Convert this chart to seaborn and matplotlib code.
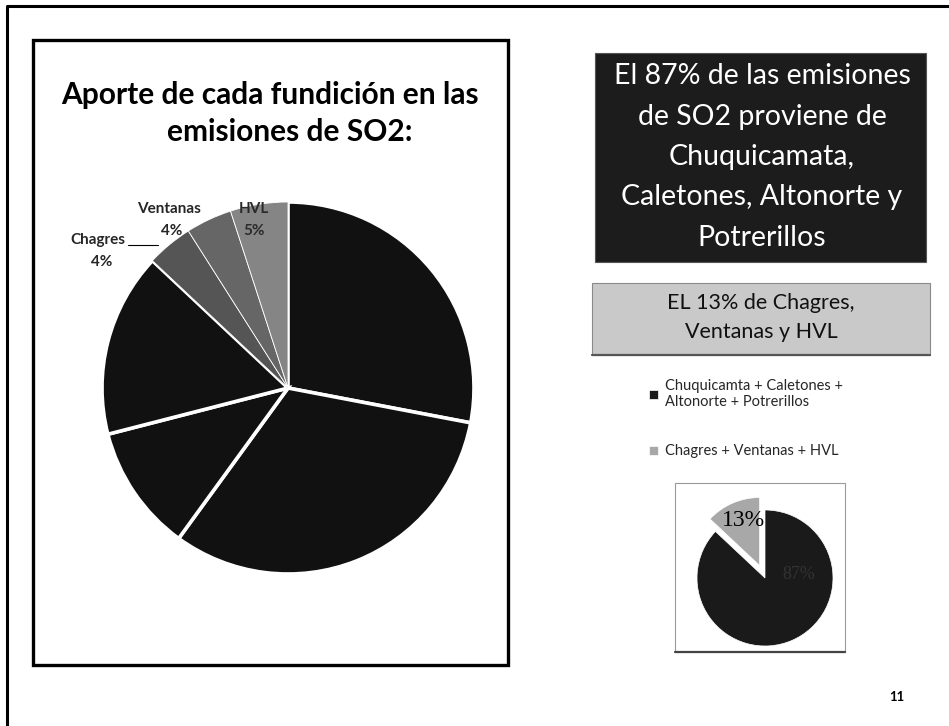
import matplotlib.pyplot as plt
import seaborn as sns
from matplotlib.patches import Rectangle

fundiciones = ["Chuquicamata", "Caletones", "Altonorte", "Potrerillos", "Chagres", "Ventanas", "HVL"]
aporte = [28, 32, 11, 16, 4, 4, 5]
grupos = ["Chuquicamta + Caletones +\nAltonorte + Potrerillos", "Chagres + Ventanas + HVL"]
grupo_pct = [87, 13]

sns.set_theme(style="white")
plt.rcParams['font.family'] = ['Lato', 'DejaVu Sans']

W, H = 949, 726
fig = plt.figure(figsize=(W / 100, H / 100), dpi=100)

# capa en pixeles (por encima de las tortas, sin fondo)
bg = fig.add_axes([0, 0, 1, 1])
bg.set_xlim(0, W)
bg.set_ylim(H, 0)
bg.axis('off')
bg.set_zorder(5)

# marco de la diapositiva y del panel izquierdo
bg.plot([7, 7, W + 5], [H + 5, 6, 6], color='black', lw=2.2)
bg.add_patch(Rectangle((33, 40), 475, 625, fill=False, ec='black', lw=2.4))

bg.text(270, 95, "Aporte de cada fundición en las", ha='center', va='center',
        fontsize=21.5, fontweight='bold', color='black')
bg.text(290, 132, "emisiones de SO2:", ha='center', va='center',
        fontsize=21.5, fontweight='bold', color='black')

# recuadro oscuro
bg.add_patch(Rectangle((595, 53), 331, 209, fc='#1c1c1c', ec='#555555', lw=0.8))
lineas = ["El 87% de las emisiones", "de SO2 proviene de", "Chuquicamata,",
          "Caletones, Altonorte y", "Potrerillos"]
for i, t in enumerate(lineas):
    bg.text(762, 76 + i * 40.5, t, ha='center', va='center', fontsize=20.5, color='white')

# recuadro claro
bg.add_patch(Rectangle((592, 283), 338, 72, fc='#c9c9c9', ec='#8a8a8a', lw=0.8))
bg.plot([592, 930], [355, 355], color='#555555', lw=1.6)
bg.text(761, 303, "EL 13% de Chagres,", ha='center', va='center', fontsize=15.5, color='#111111')
bg.text(761, 332, "Ventanas y HVL", ha='center', va='center', fontsize=15.5, color='#111111')

# marco del grafico pequeno
bg.add_patch(Rectangle((675, 483), 170, 169, fill=False, ec='#9a9a9a', lw=0.8))
bg.plot([675, 845], [652, 652], color='#444444', lw=1.6)

bg.text(897, 697, "11", ha='center', va='center', fontsize=9.5, fontweight='bold', color='black')

# torta principal
cx, cy, r = 288, 388, 186
ax = fig.add_axes([(cx - r) / W, (H - cy - r) / H, 2 * r / W, 2 * r / H])
colores = ['#111111', '#111111', '#111111', '#111111', '#555555', '#666666', '#858585']
wedges, _ = ax.pie(aporte, colors=colores, startangle=90, counterclock=False,
                   wedgeprops=dict(edgecolor='white', linewidth=2.6))
for w in wedges[4:]:
    w.set_linewidth(0.6)
ax.set_xlim(-1, 1)
ax.set_ylim(-1, 1)
ax.axis('off')

# etiquetas de las fundiciones chicas
bg.text(98, 240, fundiciones[4], ha='center', va='center', fontsize=11, fontweight='bold')
bg.text(102, 262, f"{aporte[4]}%", ha='center', va='center', fontsize=11, fontweight='bold')
bg.plot([128, 158], [245, 245], color='black', lw=0.8)
bg.text(169, 209, fundiciones[5], ha='center', va='center', fontsize=11, fontweight='bold')
bg.text(172, 231, f"{aporte[5]}%", ha='center', va='center', fontsize=11, fontweight='bold')
bg.text(254, 209, fundiciones[6], ha='center', va='center', fontsize=11, fontweight='bold',
        color='#2a2a2a')
bg.text(254, 231, f"{aporte[6]}%", ha='center', va='center', fontsize=11, fontweight='bold',
        color='#2a2a2a')

# torta pequena
sx, sy, sr = 765, 578, 68
ax2 = fig.add_axes([(sx - sr) / W, (H - sy - sr) / H, 2 * sr / W, 2 * sr / H])
w2, _ = ax2.pie(grupo_pct, colors=['#1a1a1a', '#a8a8a8'], startangle=90, counterclock=False,
                explode=[0, 0.2], wedgeprops=dict(edgecolor='white', linewidth=0.5))
ax2.set_xlim(-1, 1)
ax2.set_ylim(-1, 1)
ax2.axis('off')
ax2.text(-0.32, 0.85, f"{grupo_pct[1]}%", ha='center', va='center', fontsize=17,
         family='Liberation Serif', color='black')
ax2.text(0.5, 0.05, f"{grupo_pct[0]}%", ha='center', va='center', fontsize=13,
         family='Liberation Serif', color='#333333')

fig.legend(w2, grupos, loc='upper left', bbox_to_anchor=(642 / W, 1 - 372 / H),
           frameon=False, fontsize=10.5, handlelength=0.6, handleheight=0.6,
           handletextpad=0.45, labelspacing=2.4, borderpad=0)

fig.savefig("out.png", dpi=100)
